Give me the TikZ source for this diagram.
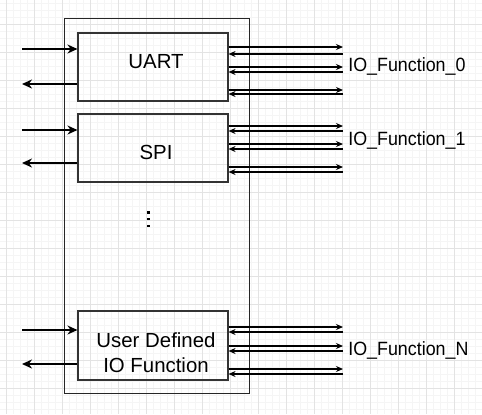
\documentclass[tikz,border=0pt]{standalone}
\usepackage{fontspec}
\setmainfont{Liberation Sans}
\usetikzlibrary{arrows.meta}
\tikzset{
  blk/.style={draw=black!80, line width=0.55pt, minimum width=75pt, minimum height=34pt, inner sep=0pt},
  blktxt/.style={align=center, inner sep=0pt, font=\fontsize{10.2}{12.8}\selectfont},
  sig/.style={line width=1pt, -{Stealth[length=5pt,width=4.5pt]}},
  pin/.style={line width=0.55pt, -{Stealth[length=3.5pt,width=3pt]}},
  lbl/.style={anchor=base west, inner sep=0pt, font=\fontsize{9.6}{11}\selectfont, transform shape, xscale=0.93},
  gridmin/.style={black!4, line width=0.4pt},
  gridmaj/.style={black!11, line width=0.5pt}
}
\begin{document}
\begin{tikzpicture}[x=0.5pt,y=-0.5pt]
\useasboundingbox (0,0) rectangle (482,414);
% background grid
\foreach \x in {-1,6,...,482} \draw[gridmin] (\x,0) -- (\x,414);
\foreach \y in {3.7,10.7,...,414} \draw[gridmin] (0,\y) -- (482,\y);
\foreach \x in {6,34,...,482} \draw[gridmaj] (\x,0) -- (\x,414);
\foreach \y in {24.7,52.7,...,414} \draw[gridmaj] (0,\y) -- (482,\y);
% blocks
\node[draw=black!85, line width=0.5pt, minimum width=92.5pt, minimum height=187.5pt] (soc) at (156.5,205.5) {};
\node[blk] (uart) at (153,67) {};
\node[blk] (spi) at (153,148) {};
\node[blk, minimum height=34.5pt] (user) at (153,345.5) {};
\node[blktxt, anchor=base] (uartt) at (156,68.3) {UART};
\node[blktxt, anchor=base] (spit) at (156,159.3) {SPI};
\node[blktxt] (usert) at (156,352.5) {User Defined\\IO Function};
% vertical dots
\foreach \y in {212.3,219,226} \fill (147,\y-1.2) rectangle (149.5,\y+1.2);
% left side
\coordinate (uin) at (22,49);  \coordinate (uout) at (22,84);
\coordinate (sin) at (22,130); \coordinate (sout) at (22,163);
\coordinate (din) at (22,330); \coordinate (dout) at (22,364);
\draw[sig] (uin) -- (uart.west |- uin);
\draw[sig] (uart.west |- uout) -- (uout);
\draw[sig] (sin) -- (spi.west |- sin);
\draw[sig] (spi.west |- sout) -- (sout);
\draw[sig] (din) -- (user.west |- din);
\draw[sig] (user.west |- dout) -- (dout);
% right side
\foreach \y [count=\i] in {47,54,67,72,90,94} {
  \coordinate (u\i) at (343,\y);
  \ifodd\i \draw[pin] (uart.east |- u\i) -- (u\i); \else \draw[pin] (u\i) -- (uart.east |- u\i); \fi
}
\foreach \y [count=\i] in {126,131,144,149,167,172} {
  \coordinate (s\i) at (343,\y);
  \ifodd\i \draw[pin] (spi.east |- s\i) -- (s\i); \else \draw[pin] (s\i) -- (spi.east |- s\i); \fi
}
\foreach \y [count=\i] in {327,332,346,351,369,374} {
  \coordinate (d\i) at (343,\y);
  \ifodd\i \draw[pin] (user.east |- d\i) -- (d\i); \else \draw[pin] (d\i) -- (user.east |- d\i); \fi
}
\node[lbl] (io0) at (348,71) {IO\_Function\_0};
\node[lbl] (io1) at (348,145) {IO\_Function\_1};
\node[lbl] (ion) at (348,355.7) {IO\_Function\_N};
\end{tikzpicture}
\end{document}
